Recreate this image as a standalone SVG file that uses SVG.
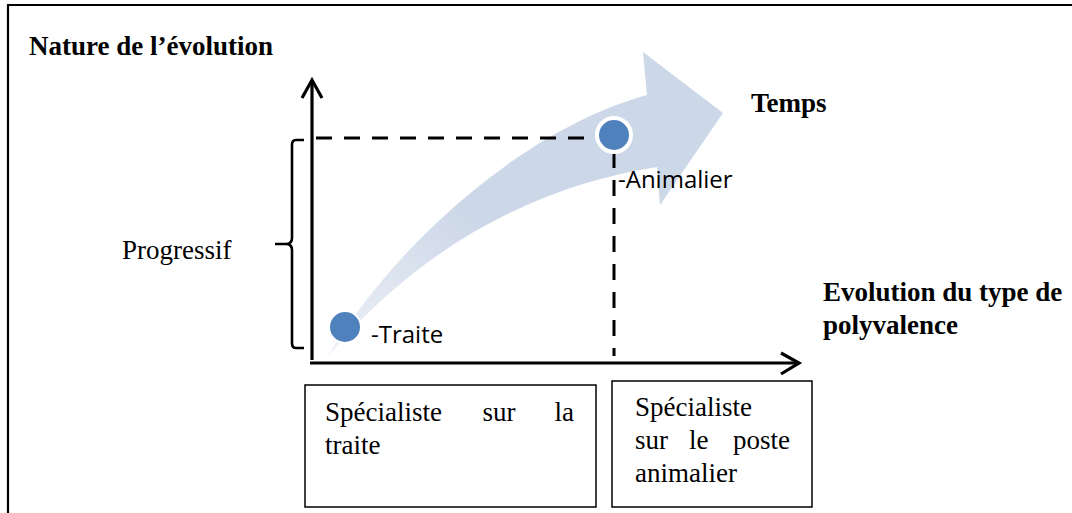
<svg xmlns="http://www.w3.org/2000/svg" width="1072" height="513" viewBox="0 0 1072 513">
<defs>
<style>
.ser{font-family:"Liberation Serif","Times New Roman",serif;font-size:27px;fill:#000}
.b{font-weight:bold}
.sans{font-family:"Open Sans","Liberation Sans",sans-serif;font-size:24px;fill:#000}
.ax{stroke:#000;stroke-width:3.2;fill:none}
.dash{stroke:#000;stroke-width:3;fill:none;stroke-dasharray:16 12}
.box{fill:#fff;stroke:#000;stroke-width:1.5}
.pt{fill:#4f81bd;stroke:#fff}
</style>
<linearGradient id="fade" gradientUnits="userSpaceOnUse" x1="330" y1="360" x2="470" y2="210">
<stop offset="0" stop-color="#eef2f8"/>
<stop offset="1" stop-color="#ccd7e7"/>
</linearGradient>
</defs>
<rect width="1072" height="513" fill="#fff"/>
<g id="frame">
<path d="M8 513 V5 H1072" stroke="#000" stroke-width="2.2" fill="none"/>
</g>
<g id="big-arrow">
<path d="M327 358 C390 250 520 130 647 95 L643 52 L723 113 L660 205 L657 167 C540 185 420 245 327 358 Z" fill="url(#fade)"/>
</g>
<g id="connectors">
<path class="dash" d="M316 138 H598"/>
<path class="dash" d="M614 152 V356"/>
<path class="ax" d="M312 360 V80"/>
<path class="ax" d="M302 98 L312 80 L322 98"/>
<path class="ax" d="M310 363 H799"/>
<path class="ax" d="M781 353 L799 363 L781 374"/>
<path id="brace" d="M304 140 H296 Q292 140 292 145 V238 Q292 244 286 244 H275 M286 244 Q292 244 292 250 V343 Q292 348 296 348 H304" stroke="#000" stroke-width="2.6" fill="none"/>
</g>
<g id="traite-point">
<circle class="pt" cx="345" cy="327" r="16" stroke-width="2"/>
<text class="sans" x="371" y="343">-Traite</text>
</g>
<g id="animalier-point">
<circle class="pt" cx="614" cy="135" r="17" stroke-width="4"/>
<text class="sans" x="618" y="188">-Animalier</text>
</g>
<g id="y-label">
<text class="ser b" x="29" y="55">Nature de l’évolution</text>
</g>
<g id="temps-label">
<text class="ser b" x="751" y="112">Temps</text>
</g>
<g id="x-label">
<text class="ser b" x="823" y="301">Evolution du type de</text>
<text class="ser b" x="823" y="334">polyvalence</text>
</g>
<g id="progressif-label">
<text class="ser" x="122" y="259">Progressif</text>
</g>
<g id="box-traite">
<rect class="box" x="305" y="385" width="291" height="122"/>
<text class="ser" x="325" y="421">Spécialiste</text>
<text class="ser" x="499" y="421" text-anchor="middle">sur</text>
<text class="ser" x="574" y="421" text-anchor="end">la</text>
<text class="ser" x="325" y="454">traite</text>
</g>
<g id="box-animalier">
<rect class="box" x="612" y="381" width="200" height="126"/>
<text class="ser" x="635" y="416">Spécialiste</text>
<text class="ser" x="635" y="449">sur</text>
<text class="ser" x="689" y="449">le</text>
<text class="ser" x="790" y="449" text-anchor="end">poste</text>
<text class="ser" x="635" y="482">animalier</text>
</g>
</svg>
